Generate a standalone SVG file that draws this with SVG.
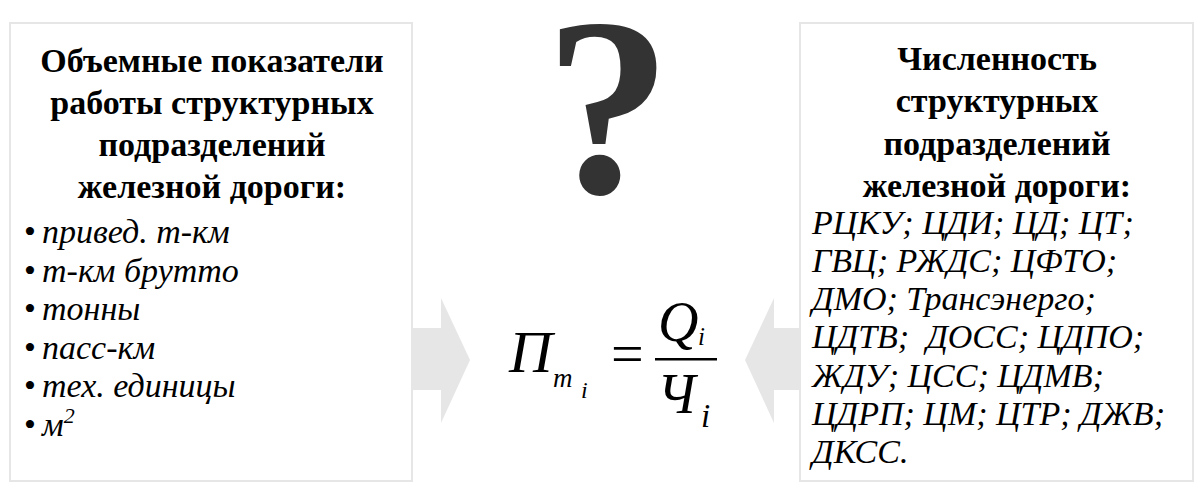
<svg xmlns="http://www.w3.org/2000/svg" width="1199" height="483" viewBox="0 0 1199 483">
<style>
text{font-family:'Liberation Serif',serif;fill:#000}
.box{fill:#ffffff;stroke:#e6e6e6;stroke-width:2}
.arrow{fill:#e6e6e6}
.title{font-weight:bold;font-size:34px;text-anchor:middle}
.item{font-style:italic;font-size:34px}
.bullet{font-size:34px}
.math{font-style:italic}
.q{font-weight:bold;font-size:254px;fill:#333333;text-anchor:middle}
</style>
<rect width="1199" height="483" fill="#ffffff"/>
<g id="connectors">
<polygon class="arrow" points="405,328 441,328 441,298 470,360 441,423 441,390 405,390"/>
<polygon class="arrow" points="806,328 774,328 774,298 745,360 774,423 774,390 806,390"/>
</g>
<g id="left-box">
<rect class="box" x="10" y="23" width="402" height="458"/>
<text class="title" x="212" y="72">Объемные показатели</text>
<text class="title" x="212" y="114">работы структурных</text>
<text class="title" x="212" y="156">подразделений</text>
<text class="title" x="212" y="198">железной дороги:</text>
<text class="bullet" x="24" y="243">•</text><text class="item" x="42" y="243">привед. т-км</text>
<text class="bullet" x="24" y="282">•</text><text class="item" x="42" y="282">т-км брутто</text>
<text class="bullet" x="24" y="320">•</text><text class="item" x="42" y="320">тонны</text>
<text class="bullet" x="24" y="359">•</text><text class="item" x="42" y="359">пасс-км</text>
<text class="bullet" x="24" y="397">•</text><text class="item" x="42" y="397">тех. единицы</text>
<text class="bullet" x="24" y="436">•</text><text class="item" x="42" y="436">м<tspan font-size="22" dy="-13">2</tspan></text>
</g>
<g id="right-box">
<rect class="box" x="800" y="23" width="393" height="458"/>
<text class="title" x="997" y="70">Численность</text>
<text class="title" x="997" y="112">структурных</text>
<text class="title" x="997" y="155">подразделений</text>
<text class="title" x="997" y="197">железной дороги:</text>
<text class="item" x="812" y="234">РЦКУ; ЦДИ; ЦД; ЦТ;</text>
<text class="item" x="812" y="272">ГВЦ; РЖДС; ЦФТО;</text>
<text class="item" x="812" y="310">ДМО; Трансэнерго;</text>
<text class="item" x="812" y="348" xml:space="preserve">ЦДТВ;  ДОСС; ЦДПО;</text>
<text class="item" x="812" y="387">ЖДУ; ЦСС; ЦДМВ;</text>
<text class="item" x="812" y="425">ЦДРП; ЦМ; ЦТР; ДЖВ;</text>
<text class="item" x="812" y="463">ДКСС.</text>
</g>
<g id="question">
<text class="q" x="608" y="192">?</text>
</g>
<g id="formula">
<text class="math" x="509" y="372" font-size="60">П</text>
<text class="math" x="553" y="387" font-size="27">m</text>
<text class="math" x="581" y="398" font-size="24">i</text>
<text x="611" y="373" font-size="58">=</text>
<rect x="655" y="358" width="62" height="2.5" fill="#000"/>
<text class="math" x="658" y="341" font-size="56">Q</text>
<text class="math" x="698" y="345" font-size="25">i</text>
<text class="math" x="657" y="413" font-size="56">Ч</text>
<text class="math" x="701" y="427" font-size="33">i</text>
</g>
</svg>
